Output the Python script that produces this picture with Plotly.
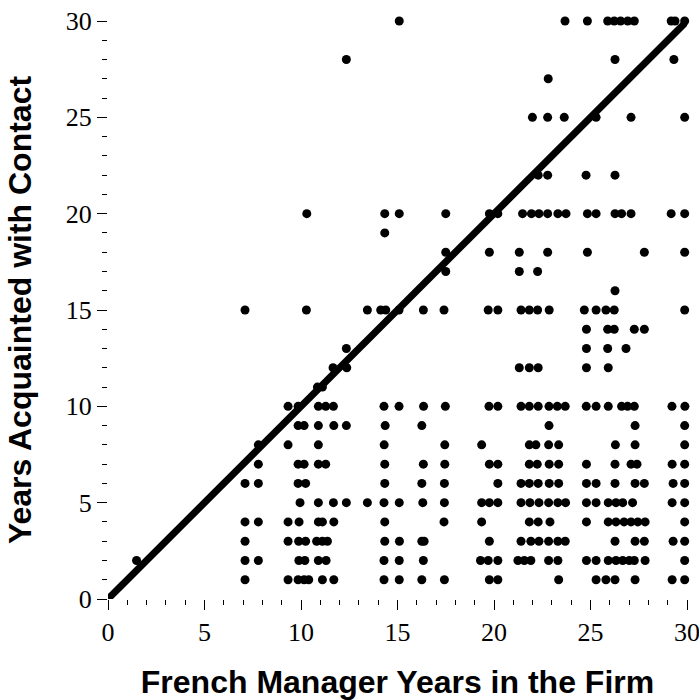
import plotly.graph_objects as go

# x values (French manager years in the firm) for each "years acquainted" level
acq_1 = [7.10, 9.33, 9.85, 10.16, 10.40, 11.11, 11.70, 14.30, 15.09, 16.26, 17.43, 19.76, 20.20,
         23.35, 25.29, 25.80, 26.27, 27.31, 29.23, 29.88]
acq_2 = [1.48, 7.10, 7.79, 9.89, 10.20, 10.90, 11.30, 14.30, 15.09, 16.34, 19.30, 19.70, 20.20,
         21.24, 21.57, 21.91, 22.83, 23.31, 24.79, 25.29, 25.92, 26.32, 26.67, 27.01, 27.27,
         27.83, 29.88]
acq_3 = [7.10, 9.33, 9.88, 10.24, 10.81, 11.11, 11.37, 14.34, 15.10, 16.26, 16.38, 19.76, 21.40,
         21.91, 22.33, 22.83, 23.31, 23.69, 26.27, 27.31, 27.79, 29.28, 29.88]
acq_4 = [7.10, 7.79, 9.33, 9.90, 10.90, 11.11, 11.70, 14.34, 17.41, 19.36, 21.83, 22.29, 22.90,
         24.79, 25.92, 26.32, 26.74, 27.10, 27.45, 27.83, 29.88]
acq_5 = [9.95, 10.90, 11.68, 12.35, 13.44, 14.30, 15.09, 16.31, 17.43, 19.36, 19.76, 20.20, 21.40,
         21.86, 22.33, 22.83, 23.31, 23.71, 24.79, 25.29, 25.92, 26.32, 26.67, 27.18, 29.23, 29.88]
acq_6 = [7.10, 7.79, 9.85, 10.24, 14.34, 16.26, 17.43, 20.20, 21.40, 21.83, 22.29, 22.86, 23.35,
         24.79, 25.29, 26.27, 27.31, 27.79, 29.28, 29.88]
acq_7 = [7.79, 9.85, 10.16, 10.90, 11.28, 14.34, 16.34, 17.45, 19.76, 20.20, 21.83, 22.24, 22.86,
         23.35, 24.79, 26.27, 27.10, 27.41, 29.23, 29.88]
acq_8 = [7.79, 9.33, 10.90, 14.31, 17.45, 19.36, 21.83, 22.17, 22.83, 23.35, 26.29, 27.31, 29.88]
acq_9 = [9.85, 10.16, 10.90, 11.70, 12.35, 14.36, 16.26, 22.85, 27.31, 29.88]
acq_10 = [9.33, 9.85, 10.90, 11.28, 11.68, 14.30, 15.08, 16.35, 17.48, 19.74, 20.20, 21.40, 21.83,
          22.29, 22.85, 23.28, 23.69, 24.78, 25.29, 25.92, 26.61, 26.92, 27.27, 29.22, 29.89]
acq_11 = [10.85, 11.11]
acq_12 = [11.66, 12.37, 21.31, 21.83, 22.29, 24.79, 25.92]
acq_13 = [12.35, 24.79, 25.89, 26.84]
acq_14 = [24.79, 25.89, 26.23, 27.27, 27.79]
acq_15 = [7.10, 10.28, 13.44, 14.13, 14.39, 15.08, 16.34, 17.41, 19.70, 20.20, 21.40, 21.83, 22.26,
          22.86, 24.68, 25.29, 25.80, 26.23, 29.88]
acq_16 = [26.27]
acq_17 = [17.50, 21.31, 22.26]
acq_18 = [17.50, 19.76, 21.31, 22.78, 24.84, 27.79, 29.88]
acq_19 = [14.34]
acq_20 = [10.30, 14.34, 15.09, 17.50, 19.76, 20.20, 21.48, 21.94, 22.33, 22.78, 23.31, 23.73, 24.84,
          25.29, 26.27, 26.61, 27.10, 29.18, 29.88]
acq_22 = [22.29, 22.78, 24.77, 26.27]
acq_25 = [21.99, 22.78, 23.64, 25.29, 27.10, 29.88]
acq_27 = [22.81]
acq_28 = [12.35, 26.27, 29.32]
acq_30 = [15.09, 23.68, 24.84, 25.89, 26.23, 26.56, 26.93, 27.27, 29.18, 29.38, 29.88]

rows = {1: acq_1, 2: acq_2, 3: acq_3, 4: acq_4, 5: acq_5, 6: acq_6, 7: acq_7, 8: acq_8,
        9: acq_9, 10: acq_10, 11: acq_11, 12: acq_12, 13: acq_13, 14: acq_14, 15: acq_15,
        16: acq_16, 17: acq_17, 18: acq_18, 19: acq_19, 20: acq_20, 22: acq_22, 25: acq_25,
        27: acq_27, 28: acq_28, 30: acq_30}

line_x = [0, 30]
line_y = [0, 30]
tick_vals = [0, 5, 10, 15, 20, 25, 30]

xs, ys = [], []
for yv, xlist in rows.items():
    xs.extend(xlist)
    ys.extend([yv] * len(xlist))

fig = go.Figure()
fig.add_trace(go.Scatter(x=xs, y=ys, mode="markers", cliponaxis=False,
                         marker=dict(size=9, color="black", line=dict(width=0)),
                         showlegend=False, hoverinfo="skip"))
fig.add_trace(go.Scatter(x=line_x, y=line_y, mode="lines", cliponaxis=False,
                         line=dict(color="black", width=7), showlegend=False, hoverinfo="skip"))

tickfont = dict(family="Liberation Serif", size=26, color="black")
titlefont = dict(family="Liberation Sans", size=32, color="black", weight="bold")

common = dict(range=[0, 30], showline=False, showgrid=False, zeroline=False,
              ticks="outside", ticklen=10, tickwidth=1, tickcolor="black",
              tickvals=tick_vals, tickfont=tickfont, automargin=False,
              ticklabeloverflow="allow",
              minor=dict(ticks="outside", ticklen=5, tickwidth=1, tickcolor="black",
                         dtick=1, tick0=0, showgrid=False))

fig.update_layout(
    width=699, height=700,
    margin=dict(l=108, r=12, t=21, b=101),
    plot_bgcolor="white", paper_bgcolor="white",
    xaxis=dict(**common, title=dict(text="French Manager Years in the Firm", font=titlefont, standoff=25)),
    yaxis=dict(**common, title=dict(text="Years Acquainted with Contact", font=titlefont, standoff=24)),
)

fig.write_html("out.html", config={"displayModeBar": False},
               post_script="document.body.style.margin='0';document.body.style.overflow='hidden';")
